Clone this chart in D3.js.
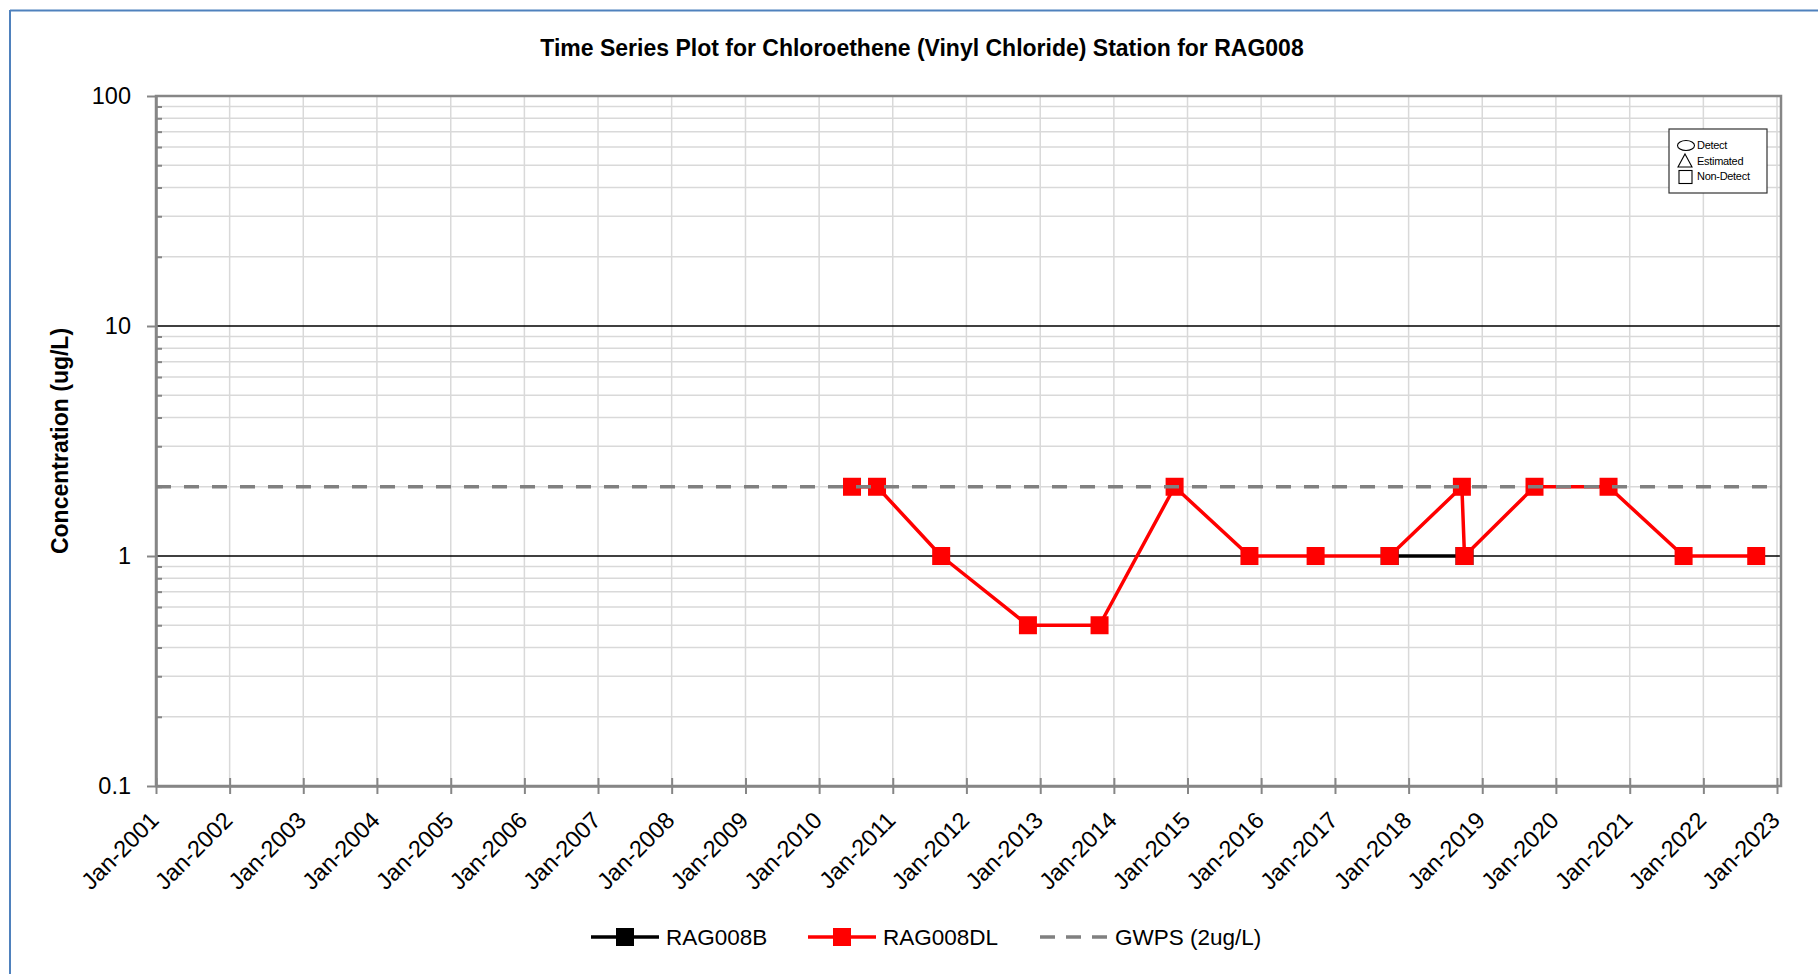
<!DOCTYPE html>
<html>
<head>
<meta charset="utf-8">
<script src="https://cdn.jsdelivr.net/npm/d3@7"></script>
<style>
  html, body { margin: 0; padding: 0; background: #fff; }
  svg { display: block; }
  text { font-family: "Liberation Sans", Arial, sans-serif; fill: #000; }
</style>
</head>
<body>
<svg id="chart" width="1818" height="974"></svg>
<script>
// ---------------- data ----------------
const chartTitle = "Time Series Plot for Chloroethene (Vinyl Chloride) Station for RAG008";
const yAxisTitle = "Concentration (ug/L)";

const xTickDates = ["2001-01-01","2002-01-01","2003-01-01","2004-01-01","2005-01-01","2006-01-01",
  "2007-01-01","2008-01-01","2009-01-01","2010-01-01","2011-01-01","2012-01-01","2013-01-01",
  "2014-01-01","2015-01-01","2016-01-01","2017-01-01","2018-01-01","2019-01-01","2020-01-01",
  "2021-01-01","2022-01-01","2023-01-01"];
const yTickValues = [0.1, 1, 10, 100];
const yTickLabels = ["0.1", "1", "10", "100"];
const yMinorValues = [0.2,0.3,0.4,0.5,0.6,0.7,0.8,0.9, 2,3,4,5,6,7,8,9, 20,30,40,50,60,70,80,90];
const yMajorGrid = [1, 10];

const seriesB_dates = ["2017-09-29", "2018-10-05"];
const seriesB_values = [1, 1];

const seriesDL_dates = ["2010-06-13","2010-10-15","2011-08-29","2012-11-01","2013-10-22",
  "2014-10-29","2015-11-04","2016-09-27","2017-09-29","2018-09-22","2018-10-05",
  "2019-09-17","2020-09-18","2021-09-25","2022-09-20"];
const seriesDL_values = [2, 2, 1, 0.5, 0.5, 2, 1, 1, 1, 2, 1, 2, 2, 1, 1];

const gwpsValue = 2;

const legendNames = ["RAG008B", "RAG008DL", "GWPS (2ug/L)"];
const legendColors = ["#000000", "#ff0000", "#808080"];
const legendKinds = ["marker", "marker", "dash"];

const symbolLabels = ["Detect", "Estimated", "Non-Detect"];
const symbolShapes = ["ellipse", "triangle", "square"];

// ---------------- layout ----------------
const svg = d3.select("#chart");
const W = 1818, H = 974;
const plot = { left: 156, right: 1781, top: 96, bottom: 786 };
const parse = d3.timeParse("%Y-%m-%d");

const x = d3.scaleTime()
  .domain([parse("2001-01-01"), parse("2023-01-01")])
  .range([156, 1777]);
const y = d3.scaleLog().domain([0.1, 100]).range([plot.bottom, plot.top]);

// outer chart border (top + left visible)
svg.append("line").attr("x1", 10).attr("x2", W).attr("y1", 10.5).attr("y2", 10.5)
  .attr("stroke", "#4f81bd").attr("stroke-width", 2);
svg.append("line").attr("x1", 10).attr("x2", 10).attr("y1", 10).attr("y2", H)
  .attr("stroke", "#4f81bd").attr("stroke-width", 2);

// title
svg.append("text").attr("x", 922).attr("y", 48).attr("dy", "0.35em")
  .attr("text-anchor", "middle").attr("font-weight", "bold").attr("font-size", 23)
  .text(chartTitle);

// y axis title
svg.append("text")
  .attr("transform", `translate(60,${(plot.top + plot.bottom) / 2}) rotate(-90)`)
  .attr("text-anchor", "middle").attr("dy", "0.35em")
  .attr("font-weight", "bold").attr("font-size", 23)
  .text(yAxisTitle);

const g = svg.append("g");

// minor horizontal grid
g.selectAll("line.hminor").data(yMinorValues).join("line")
  .attr("x1", plot.left).attr("x2", plot.right)
  .attr("y1", d => y(d)).attr("y2", d => y(d))
  .attr("stroke", "#d9d9d9").attr("stroke-width", 1.5);

// vertical grid
const xDates = xTickDates.map(parse);
g.selectAll("line.vgrid").data(xDates.slice(1)).join("line")
  .attr("x1", d => x(d)).attr("x2", d => x(d))
  .attr("y1", plot.top).attr("y2", plot.bottom)
  .attr("stroke", "#d9d9d9").attr("stroke-width", 1.5);

// major horizontal grid
g.selectAll("line.hmajor").data(yMajorGrid).join("line")
  .attr("x1", plot.left).attr("x2", plot.right)
  .attr("y1", d => y(d)).attr("y2", d => y(d))
  .attr("stroke", "#000").attr("stroke-width", 1.5);

// plot border
g.append("rect").attr("x", plot.left).attr("y", plot.top)
  .attr("width", plot.right - plot.left).attr("height", plot.bottom - plot.top)
  .attr("fill", "none").attr("stroke", "#868686").attr("stroke-width", 2.5);

// x axis
const xAxis = d3.axisBottom(x).tickValues(xDates)
  .tickFormat(d3.timeFormat("%b-%Y")).tickSize(8).tickSizeOuter(0);
const xg = svg.append("g").attr("transform", `translate(0,${plot.bottom})`).call(xAxis);
xg.select(".domain").attr("stroke", "#868686").attr("stroke-width", 2.5);
xg.selectAll(".tick line").attr("y1", -8).attr("y2", 8).attr("stroke", "#868686").attr("stroke-width", 2);
xg.selectAll(".tick text")
  .attr("font-family", "'Liberation Sans', Arial, sans-serif")
  .attr("font-size", 23.5).attr("fill", "#000")
  .attr("text-anchor", "end")
  .attr("transform", "translate(-2,30) rotate(-45)")
  .attr("x", 0).attr("y", 0).attr("dy", "0.35em");

// y axis (major ticks outside)
const yAxis = d3.axisLeft(y).tickValues(yTickValues)
  .tickFormat((d, i) => yTickLabels[i]).tickSize(9).tickSizeOuter(0).tickPadding(16);
const yg = svg.append("g").attr("transform", `translate(${plot.left},0)`).call(yAxis);
yg.select(".domain").attr("stroke", "#868686").attr("stroke-width", 2.5);
yg.selectAll(".tick line").attr("stroke", "#868686").attr("stroke-width", 2);
yg.selectAll(".tick text")
  .attr("font-family", "'Liberation Sans', Arial, sans-serif")
  .attr("font-size", 23.5).attr("fill", "#000");

// y minor ticks (inside)
const yMinorAxis = d3.axisRight(y).tickValues(yMinorValues).tickFormat("").tickSize(6).tickSizeOuter(0);
const ymg = svg.append("g").attr("transform", `translate(${plot.left},0)`).call(yMinorAxis);
ymg.select(".domain").remove();
ymg.selectAll(".tick line").attr("stroke", "#868686").attr("stroke-width", 2);

// series
const line = d3.line().x(d => x(d.date)).y(d => y(d.value));
const dataB = seriesB_dates.map((d, i) => ({ date: parse(d), value: seriesB_values[i] }));
const dataDL = seriesDL_dates.map((d, i) => ({ date: parse(d), value: seriesDL_values[i] }));
const MS = 18;

function drawSeries(data, color) {
  svg.append("path").datum(data).attr("d", line)
    .attr("fill", "none").attr("stroke", color).attr("stroke-width", 3.5)
    .attr("stroke-linejoin", "round");
  svg.append("g").selectAll("rect").data(data).join("rect")
    .attr("x", d => x(d.date) - MS / 2).attr("y", d => y(d.value) - MS / 2)
    .attr("width", MS).attr("height", MS).attr("fill", color);
}
drawSeries(dataB, "#000000");
drawSeries(dataDL, "#ff0000");

// GWPS dashed line
svg.append("line")
  .attr("x1", plot.left).attr("x2", plot.right)
  .attr("y1", y(gwpsValue)).attr("y2", y(gwpsValue))
  .attr("stroke", "#808080").attr("stroke-width", 3.5)
  .attr("stroke-dasharray", "15,13");

// bottom legend
const legendX = [591, 808, 1040];
const legendY = 937;
const lg = svg.append("g").selectAll("g").data(legendNames).join("g")
  .attr("transform", (d, i) => `translate(${legendX[i]},${legendY})`);
lg.append("line").attr("x1", 0).attr("x2", 68).attr("y1", 0).attr("y2", 0)
  .attr("stroke", (d, i) => legendColors[i]).attr("stroke-width", 3.5)
  .attr("stroke-dasharray", (d, i) => legendKinds[i] === "dash" ? "15,11" : null);
lg.filter((d, i) => legendKinds[i] === "marker").append("rect")
  .attr("x", 34 - MS / 2).attr("y", -MS / 2).attr("width", MS).attr("height", MS)
  .attr("fill", (d) => legendColors[legendNames.indexOf(d)]);
lg.append("text").attr("x", 75).attr("y", 0).attr("dy", "0.35em")
  .attr("font-size", 22.5).text(d => d);

// symbol key box
const kb = svg.append("g").attr("transform", "translate(1669,129)");
kb.append("rect").attr("x", 0).attr("y", 0).attr("width", 98).attr("height", 64)
  .attr("fill", "#fff").attr("stroke", "#333").attr("stroke-width", 1.2);
const rows = kb.selectAll("g").data(symbolLabels).join("g")
  .attr("transform", (d, i) => `translate(0,${16.5 + i * 15.5})`);
rows.each(function (d, i) {
  const r = d3.select(this);
  const s = symbolShapes[i];
  if (s === "ellipse") {
    r.append("ellipse").attr("cx", 17).attr("cy", 0).attr("rx", 8.5).attr("ry", 5)
      .attr("fill", "none").attr("stroke", "#000").attr("stroke-width", 1.1);
  } else if (s === "triangle") {
    r.append("path").attr("d", "M16,-7 L23,6 L9,6 Z")
      .attr("fill", "none").attr("stroke", "#000").attr("stroke-width", 1.1);
  } else {
    r.append("rect").attr("x", 10).attr("y", -6).attr("width", 13).attr("height", 13)
      .attr("fill", "none").attr("stroke", "#000").attr("stroke-width", 1.1);
  }
});
rows.append("text").attr("x", 28).attr("y", 0).attr("dy", "0.35em")
  .attr("font-size", 11).attr("letter-spacing", -0.3).text(d => d);
</script>
</body>
</html>
